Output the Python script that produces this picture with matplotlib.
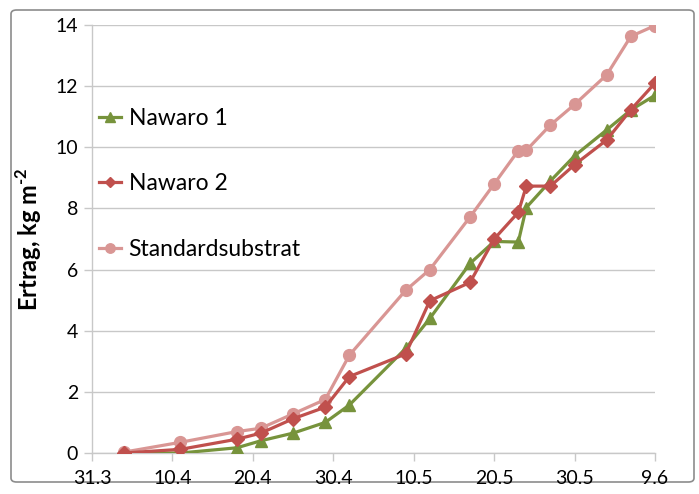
import matplotlib
matplotlib.use("Agg")
from matplotlib import pyplot as plt
from matplotlib.patches import FancyBboxPatch
import matplotlib.dates as mdates
import datetime as dt

# Messtermine (Tag.Monat)
dates = ["4.4", "11.4", "18.4", "21.4", "25.4", "29.4", "2.5", "9.5", "12.5",
         "17.5", "20.5", "23.5", "24.5", "27.5", "30.5", "3.6", "6.6", "9.6"]

nawaro1 = [0.0, 0.0, 0.17, 0.4, 0.65, 1.0, 1.57, 3.42, 4.4,
           6.2, 6.92, 6.9, 8.03, 8.9, 9.72, 10.57, 11.22, 11.7]
nawaro2 = [0.0, 0.12, 0.45, 0.65, 1.12, 1.5, 2.5, 3.24, 4.98,
           5.58, 7.0, 7.87, 8.73, 8.73, 9.43, 10.24, 11.23, 12.1]
standard = [0.03, 0.35, 0.7, 0.81, 1.28, 1.75, 3.2, 5.32, 6.0,
            7.72, 8.8, 9.89, 9.9, 10.73, 11.4, 12.37, 13.63, 13.98]

tick_dates = ["31.3", "10.4", "20.4", "30.4", "10.5", "20.5", "30.5", "9.6"]


def to_date(s):
    d, m = s.split(".")
    return dt.date(2014, int(m), int(d))


x = [to_date(s) for s in dates]
xt = [to_date(s) for s in tick_dates]

plt.rcParams['font.family'] = ['Lato', 'DejaVu Sans']
plt.rcParams['mathtext.fontset'] = 'custom'
plt.rcParams['mathtext.rm'] = 'Lato:bold'
plt.rcParams['mathtext.bf'] = 'Lato:bold'

fig = plt.figure(figsize=(6.99, 4.94), dpi=100)
ax = fig.add_axes([92/699, 1-453/494, (655-92)/699, (453-25)/494])

# Rahmen um die ganze Grafik
frame = FancyBboxPatch((11/699, 12/494), (694-11)/699, (484-12)/494,
                       boxstyle="round,pad=0,rounding_size=0.008",
                       transform=fig.transFigure, fill=False,
                       edgecolor='#8c8c8c', linewidth=1.2, zorder=-1)
fig.patches.append(frame)

ax.plot(x, standard, color='#D99694', marker='o', markersize=8.5, lw=2.3,
        label='Standardsubstrat', zorder=3)
ax.plot(x, nawaro1, color='#77933C', marker='^', markersize=8.5, lw=2.3,
        label='Nawaro 1', zorder=4)
ax.plot(x, nawaro2, color='#C0504D', marker='D', markersize=7, lw=2.3,
        label='Nawaro 2', zorder=5)

ax.set_xlim(xt[0], xt[-1])
ax.set_ylim(0, 14)
ax.set_yticks(range(0, 15, 2))
ax.set_xticks(xt)
ax.xaxis.set_major_formatter(plt.FuncFormatter(
    lambda v, p: "%d.%d" % (mdates.num2date(v).day, mdates.num2date(v).month)))

ax.grid(axis='y', color='#c8c8c8', lw=1)
ax.set_axisbelow(True)
for s in ['top', 'right']:
    ax.spines[s].set_visible(False)
for s in ['left', 'bottom']:
    ax.spines[s].set_color('#c8c8c8')
    ax.spines[s].set_linewidth(1)
ax.tick_params(axis='both', colors='#c8c8c8', labelcolor='black',
               labelsize=14, length=6, width=1)
ax.tick_params(axis='x', pad=6)
ax.tick_params(axis='y', pad=4)

ax.set_ylabel('Ertrag, kg m$^{\\text{-}2}$', fontsize=17,
              fontweight='bold', labelpad=8)

handles, labels = ax.get_legend_handles_labels()
order = [1, 2, 0]
ax.legend([handles[i] for i in order], [labels[i] for i in order],
          loc='upper left', bbox_to_anchor=(0.0, 0.823), frameon=False,
          fontsize=16.5, handlelength=0.95, labelspacing=1.95, markerscale=0.8,
          handletextpad=0.35, borderaxespad=0.0, borderpad=0.3)

fig.savefig('out.png', dpi=100)
